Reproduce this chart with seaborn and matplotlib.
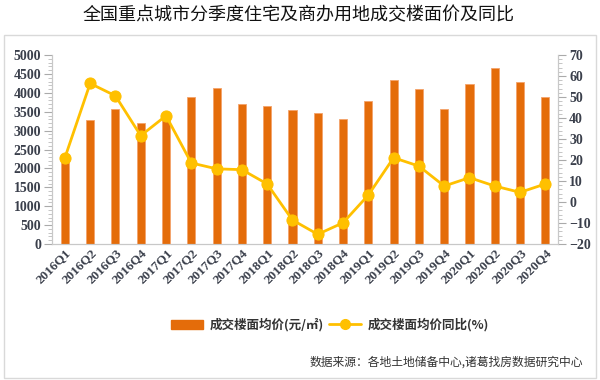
import numpy as np
import pandas as pd
import matplotlib
matplotlib.use("Agg")
import matplotlib.pyplot as plt
from matplotlib.ticker import AutoMinorLocator, MultipleLocator
from matplotlib.patches import Rectangle
import seaborn as sns

# Data
quarters = ['2016Q1', '2016Q2', '2016Q3', '2016Q4', '2017Q1', '2017Q2', '2017Q3', '2017Q4',
            '2018Q1', '2018Q2', '2018Q3', '2018Q4', '2019Q1', '2019Q2', '2019Q3', '2019Q4',
            '2020Q1', '2020Q2', '2020Q3', '2020Q4']
avg_price = [2370, 3280, 3580, 3200, 3390, 3880, 4120, 3700,
             3660, 3540, 3480, 3300, 3780, 4330, 4110, 3570,
             4240, 4660, 4300, 3880]
yoy_pct = [21, 56.5, 50.6, 31.6, 41.1, 18.6, 15.8, 15.4,
           8.6, -8.6, -15.4, -9.9, 3.3, 21.1, 17.1, 7.6,
           11.6, 7.6, 4.6, 8.6]

bar_label = '成交楼面均价(元/㎡)'
line_label = '成交楼面均价同比(%)'
title = '全国重点城市分季度住宅及商办用地成交楼面价及同比'
source = '数据来源：各地土地储备中心,诸葛找房数据研究中心'

df = pd.DataFrame({'quarter': quarters, 'price': avg_price, 'yoy': yoy_pct})
df['idx'] = np.arange(len(df))

sns.set_style('white')
plt.rcParams['font.family'] = ['Noto Sans CJK SC', 'DejaVu Sans']

bar_color = '#E46C0A'
line_color = '#FFC000'
tick_color = '#3A3F4B'
spine_color = '#C8C8C8'
num_font = {'family': 'Liberation Serif', 'weight': 'bold', 'size': 10}

fig = plt.figure(figsize=(6, 3.8), dpi=100)
ax = fig.add_axes([0.087, 0.358, 0.843, 0.497])
ax2 = ax.twinx()

sns.barplot(data=df, x='quarter', y='price', color=bar_color, width=0.32,
            edgecolor='#F4A36A', linewidth=0.6, saturation=1, ax=ax)
sns.lineplot(data=df, x='idx', y='yoy', color=line_color, linewidth=2,
             marker='o', markersize=8, markeredgecolor=line_color, ax=ax2)

ax.set_xlim(-0.5, len(quarters) - 0.5)
ax.set_ylim(0, 5000)
ax2.set_ylim(-20, 70)
ax.yaxis.set_major_locator(MultipleLocator(500))
ax2.yaxis.set_major_locator(MultipleLocator(10))
for a in (ax, ax2):
    a.yaxis.set_minor_locator(AutoMinorLocator(5))
    a.set_xlabel('')
    a.set_ylabel('')
    for s in a.spines.values():
        s.set_color(spine_color)
    a.spines['top'].set_visible(False)

ax.tick_params(axis='y', which='major', direction='out', length=6, color='#AAAAAA', pad=2)
ax.tick_params(axis='y', which='minor', direction='out', length=3, color='#BBBBBB')
ax2.tick_params(axis='y', which='major', direction='out', length=6, color='#AAAAAA', pad=2)
ax2.tick_params(axis='y', which='minor', direction='out', length=3, color='#BBBBBB')
ax.tick_params(axis='x', length=0, pad=2)

ax.set_xticks(np.arange(len(quarters)))
ax.set_xticklabels(quarters, rotation=45, ha='right', rotation_mode='anchor')
for lbl in ax.get_xticklabels() + ax.get_yticklabels() + ax2.get_yticklabels():
    lbl.set_fontproperties(num_font)
    lbl.set_color(tick_color)
for lbl in ax.get_xticklabels():
    lbl.set_fontsize(9.5)

# outer frame
fig.patches.append(Rectangle((0.006, 0.005), 0.988, 0.902, transform=fig.transFigure,
                             fill=False, edgecolor='#D9D9D9', linewidth=1))

fig.text(0.497, 0.96, title, ha='center', va='center', fontsize=13, color='#111111')

handles = [Rectangle((0, 0), 1, 1, color=bar_color),
           plt.Line2D([0], [0], color=line_color, lw=2, marker='o', markersize=7)]
fig.legend(handles, [bar_label, line_label], loc='center', bbox_to_anchor=(0.55, 0.145),
           ncol=2, frameon=False, fontsize=9, handlelength=2.6, columnspacing=0.4,
           handletextpad=0.5, prop={'weight': 'bold', 'size': 9})
for t in fig.legends[0].get_texts():
    t.set_color('#333333')

fig.text(0.972, 0.047, source, ha='right', va='center', fontsize=8.5,
         style='italic', color='#333333')

fig.savefig('out.png', dpi=100)
